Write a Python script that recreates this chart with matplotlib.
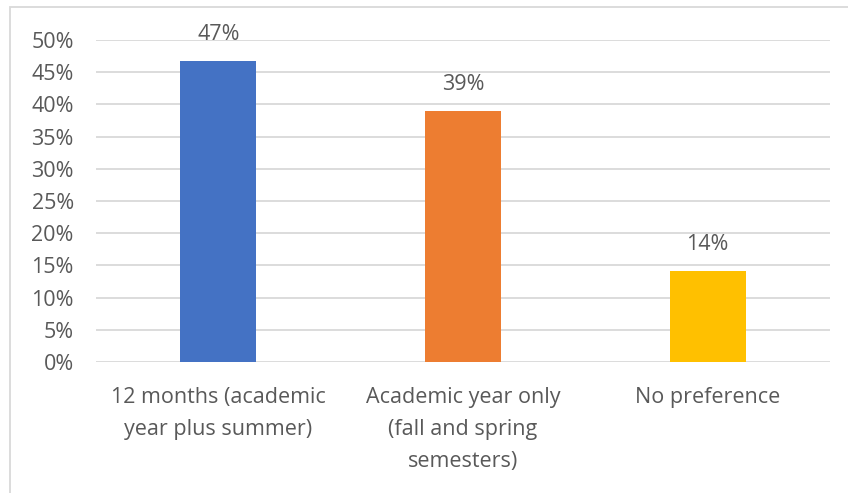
import matplotlib
matplotlib.use("Agg")
import matplotlib.pyplot as plt
from matplotlib.patches import Rectangle
from matplotlib.ticker import FuncFormatter

categories = ["12 months (academic\nyear plus summer)",
              "Academic year only\n(fall and spring\nsemesters)",
              "No preference"]
values = [0.467, 0.390, 0.141]
labels = ["47%", "39%", "14%"]
colors = ["#4472C4", "#ED7D31", "#FFC000"]
yticks = [0, 0.05, 0.10, 0.15, 0.20, 0.25, 0.30, 0.35, 0.40, 0.45, 0.50]

plt.rcParams['font.family'] = ['Open Sans', 'DejaVu Sans']
W, H = 848, 493
fig = plt.figure(figsize=(W/100, H/100), dpi=100)
ax = fig.add_axes([96/W, 1-362/H, (830-96)/W, (362-40)/H])

FS = 15.5
x = list(range(len(categories)))
bars = ax.bar(x, values, width=0.31, color=colors, zorder=3)
for xi, v, lab in zip(x, values, labels):
    ax.annotate(lab, (xi, v), xytext=(0, 19), textcoords="offset points",
                ha="center", va="center", fontsize=FS, color="#595959")

ax.set_xlim(-0.5, 2.5)
ax.set_ylim(0, 0.5)
ax.set_yticks(yticks)
ax.yaxis.set_major_formatter(FuncFormatter(lambda v, p: f"{round(v*100)}%"))
ax.set_xticks(x)
ax.set_xticklabels(categories, fontsize=FS, color="#595959", linespacing=1.7)
ax.tick_params(axis="y", labelsize=FS, labelcolor="#595959", length=0, pad=16)
ax.tick_params(axis="x", length=0, pad=18)
ax.grid(axis="y", color="#D9D9D9", linewidth=1.3, zorder=0)
for s in ax.spines.values():
    s.set_visible(False)

fig.patches.append(Rectangle((10/W, -0.1), 1.2, 1.1 - 7/H, transform=fig.transFigure,
                             fill=False, edgecolor="#D9D9D9", linewidth=1.3))
fig.savefig("out.png", dpi=100)
